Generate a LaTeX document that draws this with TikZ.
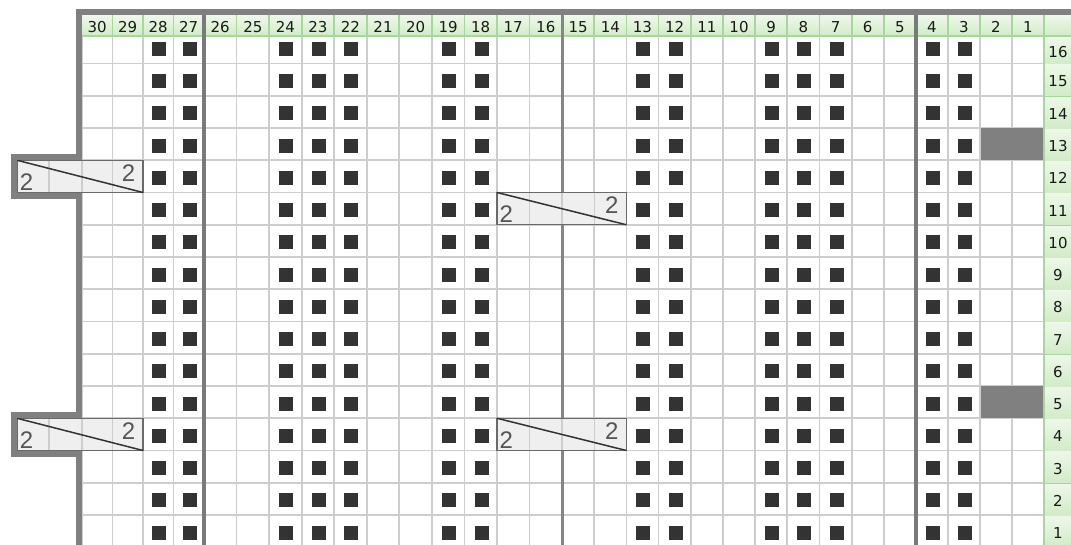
\documentclass[tikz,border=0pt]{standalone}
\usepackage{fontspec}
\setmainfont{DejaVu Sans}
\newfontfamily\twofont{Liberation Sans}
\definecolor{gridc}{HTML}{CDCDCD}
\definecolor{sqc}{HTML}{333333}
\definecolor{bordc}{HTML}{808080}
\definecolor{hdrline}{HTML}{A6D89B}
\definecolor{hdrtop}{HTML}{EEF8EA}
\definecolor{hdrbot}{HTML}{D2EBC8}
\definecolor{cellgray}{HTML}{808080}
\definecolor{boxfill}{HTML}{EFEFEF}
\definecolor{boxline}{HTML}{6A6A6A}
\definecolor{twoc}{HTML}{555555}
\definecolor{sepA}{HTML}{7A7A7A}
\definecolor{sepB}{HTML}{858585}
\def\colx{{82,112.5,143,173.5,204,236.5,269.1,301.6,334.2,366.7,399.3,431.8,464.4,496.9,529.5,562,594.2,626.4,658.5,690.7,722.9,755.1,787.3,819.5,851.6,883.8,916,948,980,1012,1044}}
\begin{document}
\begin{tikzpicture}[x=1pt,y=-1pt,
  gridline/.style={draw=gridc,line width=1.8pt},
  hdrlabel/.style={font=\fontsize{15}{17}\selectfont,text=black!90,inner sep=0pt},
  twolabel/.style={font=\twofont\fontsize{24}{26}\selectfont,text=twoc,inner sep=0pt},
  hdrshade/.style={top color=hdrtop,bottom color=hdrbot},
  greenline/.style={draw=hdrline,line width=1.8pt}]
\useasboundingbox (0,0) rectangle (1071,544);
\fill[white] (0,0) rectangle (1071,544);
% grid
\foreach \i in {0,...,30}{
  \pgfmathsetmacro\xx{\colx[\i]}
  \draw[gridline] (\xx,36) -- (\xx,548);
}
\foreach \rw in {1,...,15}{
  \pgfmathsetmacro\yy{128+(13-\rw)*32.25}
  \draw[gridline] (82,\yy) -- (1044,\yy);
}
% purl squares
\foreach \c in {28,27,24,23,22,19,18,13,12,9,8,7,4,3}{
  \pgfmathtruncatemacro\ia{30-\c}
  \pgfmathtruncatemacro\ib{31-\c}
  \pgfmathsetmacro\xa{\colx[\ia]}
  \pgfmathsetmacro\xb{\colx[\ib]}
  \pgfmathsetmacro\cx{(\xa+\xb)/2+1}
  \foreach \rw in {1,...,16}{
    \pgfmathsetmacro\cy{128+(13-\rw)*32.25+17.6}
    \fill[sqc] (\cx-7,\cy-7) rectangle (\cx+7,\cy+7);
  }
}
% gray cells
\foreach \rw in {13,5}{
  \pgfmathsetmacro\yt{128+(13-\rw)*32.25}
  \fill[cellgray] (981,\yt) rectangle (1043.5,\yt+32.25);
}
% header row
\shade[hdrshade] (82,15) rectangle (1071,36);
\foreach \i in {1,...,30}{
  \pgfmathsetmacro\xx{\colx[\i]}
  \draw[greenline] (\xx,15) -- (\xx,36);
}
\draw[greenline] (82,36) -- (1071,36);
\foreach \i in {0,...,29}{
  \pgfmathsetmacro\xa{\colx[\i]}
  \pgfmathtruncatemacro\ib{\i+1}
  \pgfmathsetmacro\xb{\colx[\ib]}
  \pgfmathtruncatemacro\lab{30-\i}
  \node[hdrlabel] (h\lab) at ({(\xa+\xb)/2},27) {\lab};
}
% row number column
\foreach \rw in {1,...,16}{
  \pgfmathsetmacro\yt{max(36,128+(13-\rw)*32.25)}
  \pgfmathsetmacro\yb{128+(14-\rw)*32.25}
  \shade[hdrshade] (1044,\yt) rectangle (1071,\yb);
  \draw[greenline] (1044,\yt) -- (1071,\yt);
  \node[hdrlabel] (r\rw) at (1058,{(\yt+\yb)/2+2}) {\rw};
}
\draw[greenline] (1044,15) -- (1044,548);
% separators
\draw[sepA,line width=4.5pt] (204,9) -- (204,548);
\draw[sepB,line width=3pt] (562,9) -- (562,548);
\draw[sepA,line width=3.5pt] (916,9) -- (916,548);
% cable boxes
\foreach \xa/\xb/\xc/\xd/\xe/\rw/\nm in {17/49/82/112.5/143/12/A, 496.9/529.5/562/594.2/626.4/11/B, 17/49/82/112.5/143/4/C, 496.9/529.5/562/594.2/626.4/4/D}{
  \pgfmathsetmacro\yt{128+(13-\rw)*32.25}
  \pgfmathsetmacro\yb{\yt+32.25}
  \fill[boxfill] (\xa,\yt) rectangle (\xe,\yb);
  \draw[gridc,line width=1.2pt] (\xb,\yt) -- (\xb,\yb) (\xc,\yt) -- (\xc,\yb) (\xd,\yt) -- (\xd,\yb);
  \draw[boxline,line width=1.3pt] (\xa,\yt) rectangle (\xe,\yb);
  \draw[sqc,line width=1.5pt] (\xa,\yt) -- (\xe,\yb);
  \node[twolabel] (\nm-left) at (\xa+9.5,\yb-10.5) {2};
  \node[twolabel] (\nm-right) at (\xe-14.5,\yt+13) {2};
}
% thick outline
\draw[bordc,line width=6pt,line join=miter] (1075,12) -- (79,12) -- (79,157.25) -- (14,157.25) -- (14,195.5) -- (79,195.5) -- (79,415.25) -- (14,415.25) -- (14,453.5) -- (79,453.5) -- (79,548);
\end{tikzpicture}
\end{document}
